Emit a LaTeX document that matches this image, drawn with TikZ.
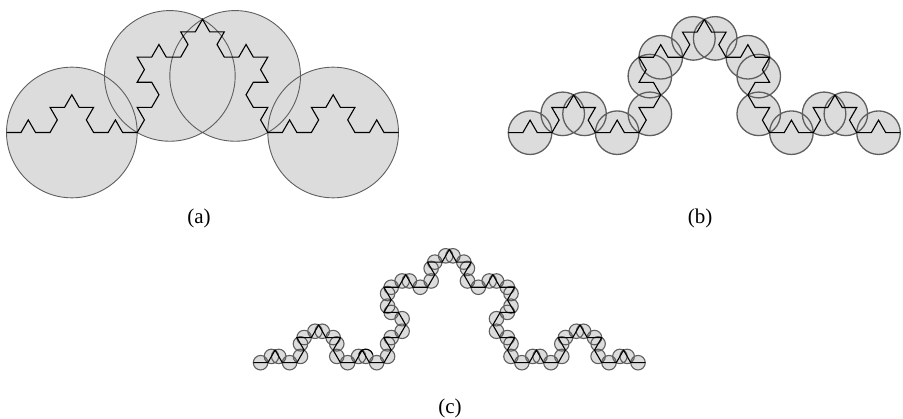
\documentclass[tikz,border=0pt]{standalone}
\usepackage{fontspec}
\setmainfont{Liberation Serif}
\definecolor{cfill}{RGB}{220,220,220}
\definecolor{cline}{RGB}{95,95,95}
\tikzset{
  circfill/.style={fill=cfill},
  circline/.style={draw=cline, line width=#1},
  koch/.style={draw=black, line width=1.1pt, line join=miter},
  lbl/.style={font=\fontsize{21}{23}\selectfont, inner sep=0pt}
}
\begin{document}
\begin{tikzpicture}[x=1pt,y=-1pt]
\useasboundingbox (0,0) rectangle (903,419);
% ---------- (a) ----------
\coordinate (sa) at (6.5,132.5);
\fill[circfill] (sa) \foreach \p in {0,-60,60,0} { ++(\p:65.333) circle[radius=65.333] ++(\p:65.333) };
\draw[circline=0.9pt] (sa) \foreach \p in {0,-60,60,0} { ++(\p:65.333) circle[radius=65.333] ++(\p:65.333) };
\draw[koch] (sa) \foreach \p in {0,-60,60,0} { \foreach \q in {0,-60,60,0} { \foreach \s in {0,-60,60,0} { -- ++({\p+\q+\s}:14.519) } } };
% ---------- (b) ----------
\coordinate (sb) at (508.3,132.7);
\fill[circfill] (sb) \foreach \p in {0,-60,60,0} { \foreach \q in {0,-60,60,0} { ++({\p+\q}:21.778) circle[radius=21.778] ++({\p+\q}:21.778) } };
\draw[circline=1.3pt] (sb) \foreach \p in {0,-60,60,0} { \foreach \q in {0,-60,60,0} { ++({\p+\q}:21.778) circle[radius=21.778] ++({\p+\q}:21.778) } };
\draw[koch] (sb) \foreach \p in {0,-60,60,0} { \foreach \q in {0,-60,60,0} { \foreach \s in {0,-60,60,0} { -- ++({\p+\q+\s}:14.519) } } };
% ---------- (c) ----------
\coordinate (sc) at (253.3,362.7);
\fill[circfill] (sc) \foreach \p in {0,-60,60,0} { \foreach \q in {0,-60,60,0} { \foreach \s in {0,-60,60,0} { ++({\p+\q+\s}:7.259) circle[radius=7.259] ++({\p+\q+\s}:7.259) } } };
\draw[circline=1.1pt] (sc) \foreach \p in {0,-60,60,0} { \foreach \q in {0,-60,60,0} { \foreach \s in {0,-60,60,0} { ++({\p+\q+\s}:7.259) circle[radius=7.259] ++({\p+\q+\s}:7.259) } } };
\draw[koch] (sc) \foreach \p in {0,-60,60,0} { \foreach \q in {0,-60,60,0} { \foreach \s in {0,-60,60,0} { -- ++({\p+\q+\s}:14.519) } } };
\coordinate (dk) at (365.8,356.4);
\draw[black, line width=1.0pt] (dk) ++(195:7.259) arc[start angle=195, end angle=345, radius=7.259];
% ---------- labels ----------
\node[lbl] (la) at (199,218) {(a)};
\node[lbl] (lb) at (700,218) {(b)};
\node[lbl] (lc) at (450,408) {(c)};
\end{tikzpicture}
\end{document}
